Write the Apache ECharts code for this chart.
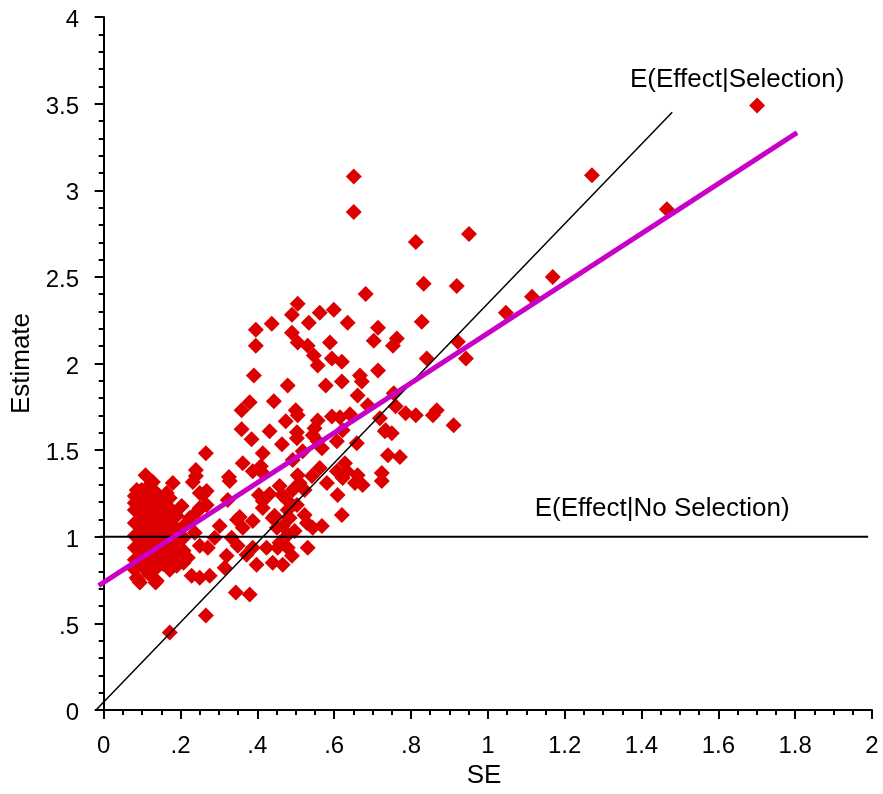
<!DOCTYPE html>
<html>
<head>
<meta charset="utf-8">
<script src="https://cdn.jsdelivr.net/npm/echarts@6/dist/echarts.min.js"></script>
<style>
html,body{margin:0;padding:0;background:#fff;}
#chart{width:883px;height:794px;}
</style>
</head>
<body>
<div id="chart"></div>
<script>
// ---- data ----
const seValues = [
1.701,1.271,1.466,1.169,1.115,1.047,0.951,0.8125,0.919,0.833,0.828,0.943,0.922,0.841,0.651,0.651,0.682,0.505,0.490,0.5625,
0.599,0.4375,0.396,0.534,0.635,0.714,0.490,0.396,0.505,0.531,0.589,0.703,0.763,0.753,0.547,0.557,0.594,0.620,0.714,0.667,
0.672,0.391,0.479,0.578,0.620,0.661,0.380,0.359,0.443,0.500,0.505,0.474,0.557,0.594,0.615,0.641,0.6875,0.719,0.734,0.75,
0.760,0.786,0.8125,0.857,0.867,0.911,0.755,0.359,0.385,0.432,0.503,0.503,0.549,0.544,0.557,0.607,0.622,0.464,0.659,0.732,
0.740,0.771,0.518,0.492,0.568,0.5625,0.542,0.628,0.607,0.633,0.622,0.661,0.654,0.674,0.724,0.724,0.581,0.505,0.510,0.492,
0.458,0.464,0.477,0.523,0.609,0.503,0.479,0.620,0.445,0.484,0.523,0.529,0.466,0.497,0.479,0.544,0.568,0.458,0.453,0.479,
0.490,0.531,0.440,0.466,0.344,0.380,0.266,0.172,0.266,0.414,0.362,0.409,0.388,0.414,0.109,0.240,0.240,0.326,0.128,0.180,
0.232,0.268,0.25,0.328,0.432,0.404,0.414,0.414,0.203,0.164,0.172,0.086,0.094,0.081,0.323,0.25,0.268,0.302,0.362,0.388,
0.354,0.440,0.451,0.25,0.271,0.320,0.372,0.388,0.424,0.398,0.229,0.25,0.276,0.086,0.094,0.135,
0.081,0.081,0.081,0.081,0.081,0.081,0.081,
0.099,0.099,0.099,0.099,0.099,0.099,0.099,
0.117,0.117,0.117,0.117,0.117,0.117,0.117,0.117,
0.135,0.135,0.135,0.135,0.135,0.135,0.135,
0.154,0.154,0.154,0.154,0.154,0.154,
0.172,0.172,0.172,0.172,0.172,0.172,
0.190,0.190,0.190,0.190,0.190,
0.208,0.208,0.208,0.208,
0.224,0.237,0.219,0.289,0.333,0.349,0.315,0.089,0.138,0.177,0.258,0.245,0.347
];
const estimateValues = [
3.489,3.086,2.891,2.500,2.385,2.293,2.747,2.701,2.448,2.460,2.241,2.029,2.126,2.029,3.080,2.874,2.402,2.345,2.282,2.293,
2.310,2.230,2.195,2.236,2.236,2.207,2.178,2.103,2.121,2.103,2.121,2.132,2.144,2.103,2.046,1.989,2.029,2.011,1.960,1.931,
1.897,1.931,1.874,1.874,1.897,1.816,1.776,1.730,1.782,1.730,1.701,1.667,1.672,1.695,1.690,1.707,1.759,1.684,1.615,1.598,
1.753,1.713,1.701,1.701,1.730,1.644,1.828,1.621,1.563,1.609,1.603,1.569,1.626,1.586,1.552,1.552,1.615,1.534,1.540,1.609,
1.471,1.460,1.494,1.443,1.511,1.397,1.351,1.425,1.379,1.379,1.339,1.356,1.310,1.299,1.368,1.322,1.310,1.356,1.310,1.270,
1.293,1.241,1.213,1.270,1.241,1.184,1.155,1.126,1.121,1.109,1.126,1.080,1.063,1.034,1.011,1.052,1.063,0.966,0.937,0.937,
0.891,0.937,0.851,0.839,0.678,0.667,0.546,0.448,1.483,1.483,1.425,1.408,1.379,1.368,1.356,1.385,1.351,1.345,1.316,1.310,
1.316,1.264,1.253,1.322,1.247,1.241,1.207,1.167,1.178,1.253,1.224,1.270,1.224,1.195,1.213,1.167,1.184,1.063,1.052,1.092,
1.115,1.109,1.052,0.948,0.937,0.891,0.897,0.937,0.937,0.839,0.776,0.764,0.776,0.764,0.736,0.736,
1.236,1.155,1.080,1.006,0.937,0.868,0.810,
1.270,1.190,1.115,1.046,0.971,0.902,0.833,
1.293,1.224,1.149,1.075,1.000,0.925,0.856,0.787,
1.259,1.184,1.109,1.034,0.960,0.885,0.816,
1.213,1.138,1.063,0.989,0.914,0.845,
1.167,1.092,1.017,0.943,0.874,0.810,
1.121,1.046,0.971,0.902,0.833,
1.063,0.994,0.920,0.851,
1.109,1.023,0.879,0.994,0.994,0.948,0.822,0.753,0.747,0.839,1.241,1.149,1.099
];
const selectionLine = [[-0.02, 0], [1.48, 3.45]];
const noSelectionLine = [[-0.01, 1], [1.99, 1]];
const fitLine = [[-0.013, 0.718], [1.805, 3.333]];
const xTickValues = [0, 0.2, 0.4, 0.6, 0.8, 1, 1.2, 1.4, 1.6, 1.8, 2];
const xMinorTickValues = [0.05,0.1,0.15,0.25,0.3,0.35,0.45,0.5,0.55,0.65,0.7,0.75,0.85,0.9,0.95,1.05,1.1,1.15,1.25,1.3,1.35,1.45,1.5,1.55,1.65,1.7,1.75,1.85,1.9,1.95];
const labelSelection = {text: 'E(Effect|Selection)', pos: [1.37, 3.64]};
const labelNoSelection = {text: 'E(Effect|No Selection)', pos: [1.122, 1.161]};

const points = seValues.map((x, i) => [x, estimateValues[i]]);
const FONT = '"Liberation Sans", Arial, sans-serif';
const fmt = v => { let s = (+(+v).toFixed(2)).toString(); return s.startsWith('0.') ? s.slice(1) : s; };

const chart = echarts.init(document.getElementById('chart'), null, {renderer: 'canvas'});
chart.setOption({
  animation: false,
  backgroundColor: '#fff',
  textStyle: {fontFamily: FONT},
  grid: {left: 96, right: 11, top: 17, bottom: 81},
  xAxis: [{
    type: 'value', min: -0.02, max: 2, position: 'bottom',
    name: 'SE', nameLocation: 'middle', nameGap: 52,
    nameTextStyle: {fontSize: 26, color: '#000', fontFamily: FONT},
    axisLine: {show: true, onZero: false, lineStyle: {color: '#000', width: 2}},
    axisTick: {show: true, customValues: xTickValues, length: 9, lineStyle: {color: '#000', width: 2}},
    axisLabel: {show: true, customValues: xTickValues, formatter: fmt, margin: 24, fontSize: 24, color: '#000', fontFamily: FONT},
    splitLine: {show: false}
  }, {
    type: 'value', min: -0.02, max: 2, position: 'bottom', offset: 0,
    axisLine: {show: false},
    axisTick: {show: true, customValues: xMinorTickValues, length: 5, lineStyle: {color: '#000', width: 2}},
    axisLabel: {show: false},
    splitLine: {show: false}
  }],
  yAxis: {
    type: 'value', min: 0, max: 4, interval: 0.5,
    name: 'Estimate', nameLocation: 'middle', nameGap: 58, nameRotate: 90,
    nameTextStyle: {fontSize: 26, color: '#000', fontFamily: FONT},
    axisLine: {show: true, lineStyle: {color: '#000', width: 2}},
    axisTick: {show: true, length: 9, lineStyle: {color: '#000', width: 2}},
    minorTick: {show: true, splitNumber: 5, length: 5, lineStyle: {color: '#000', width: 2}},
    axisLabel: {
      formatter: v => '{t|' + fmt(v) + '}', margin: 17,
      rich: {t: {fontSize: 24, color: '#000', fontFamily: FONT, padding: [7, 0, 0, 0]}}
    },
    splitLine: {show: false}
  },
  series: [
    {
      type: 'scatter', data: points, symbol: 'diamond', symbolSize: 16,
      itemStyle: {color: '#dc0000', opacity: 1}, z: 2
    },
    {
      type: 'line', data: noSelectionLine, showSymbol: false, symbol: 'none',
      lineStyle: {color: '#000', width: 2}, z: 3
    },
    {
      type: 'line', data: selectionLine, showSymbol: false, symbol: 'none',
      lineStyle: {color: '#000', width: 1.5}, z: 3
    },
    {
      type: 'line', data: fitLine, showSymbol: false, symbol: 'none',
      lineStyle: {color: '#c800c8', width: 5}, z: 4
    },
    {
      type: 'scatter', symbolSize: 0, silent: true, z: 5,
      itemStyle: {opacity: 1},
      data: [
        {value: labelSelection.pos, name: labelSelection.text},
        {value: labelNoSelection.pos, name: labelNoSelection.text}
      ],
      label: {show: true, position: 'right', distance: 0, formatter: p => p.name,
        fontSize: 26, color: '#000', opacity: 1, fontFamily: FONT}
    }
  ]
});
</script>
</body>
</html>
